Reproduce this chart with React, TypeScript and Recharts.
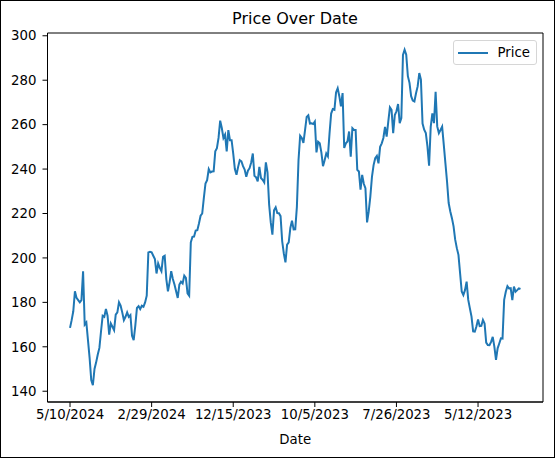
import { Line, LineChart, ReferenceArea, XAxis, YAxis } from "recharts";

// closing price, newest first (5/10/2024 back to early April 2023)
const prices = [
  168.5, 172, 176, 185, 182, 181, 180, 181, 194, 170,
  171, 163, 155, 145, 142.7, 150, 153, 156.5, 159.5, 167,
  174, 173.5, 177, 174, 165.5, 170.5, 169, 167.5, 174.5, 175.5,
  180, 178.5, 175.5, 172, 173.5, 175.5, 173.5, 174.3, 165, 163,
  169.5, 177.5, 178.3, 177, 178.5, 178, 180, 183, 202.5, 202.8,
  202.5, 201, 199.5, 193, 197.5, 195.5, 194, 200.5, 201, 190.5,
  185, 189, 194, 190.5, 188, 185, 182, 188, 189.3, 188.5,
  192, 191, 184, 183, 207, 209.5, 209.6, 212.3, 212.5, 215.5,
  219, 220, 227, 233.5, 235, 240, 238.5, 238.9, 239, 248,
  249.4, 254, 261.8, 258.5, 254, 255.5, 248, 257.5, 253, 253,
  247, 240, 237.4, 241, 244, 243.5, 241.3, 239.8, 236.5, 239.3,
  240.4, 243, 247, 237, 236.3, 234.5, 241, 236, 235.2, 234,
  243, 238.5, 224, 216, 210.5, 221.5, 222.8, 220.2, 220.1, 218.8,
  207.5, 202, 198, 206, 207, 213.5, 216.8, 212.8, 212.9, 223,
  244, 255, 254, 251.8, 257.5, 263.5, 264.2, 260.5, 260.6, 260.3,
  261.4, 247.5, 252.3, 251.6, 247.5, 241.3, 244, 247, 245.7, 256,
  265, 267, 266.7, 274.5, 276.4, 272.8, 268.2, 274.2, 249.5, 251.6,
  252.4, 256.9, 245.6, 258.4, 257.6, 257.6, 239.7, 238.9, 230.7, 237.4,
  233.4, 231.4, 216, 220.8, 227.6, 236.5, 241.8, 244.9, 245.9, 242.6,
  250, 251.6, 254, 259, 254.6, 261.4, 267.8, 266.7, 256.2, 264.3,
  266, 269.3, 260.7, 262.9, 291.4, 293.7, 291.5, 281.8, 278.8, 272.8,
  270.8, 270.4, 274.1, 277.2, 283.2, 280.3, 260.5, 257.7, 256.2, 250.2,
  241.5, 259, 265.1, 260.7, 274.8, 259.2, 256.2, 257.6, 259.1, 251,
  242.7, 234.4, 224.7, 220.9, 217.9, 214.2, 208.2, 204.4, 201.4, 193.1,
  184.9, 183.3, 185.5, 189.3, 181.1, 177.3, 173.6, 166.9, 166.8, 169.1,
  172.3, 169.3, 169.4, 172.1, 170.5, 161.9, 160.8, 160.7, 162.2, 164.5,
  160.1, 154.1, 159.3, 161.5, 163.8, 163.7, 181.1, 184.8, 187.3, 186.3,
  186.4, 181, 187.1, 184.8, 185.5, 186.3, 186,
];

const dateTickIndex = [0, 50, 100, 150, 200, 250];
const dateTickLabels = ["5/10/2024", "2/29/2024", "12/15/2023", "10/5/2023", "7/26/2023", "5/12/2023"];
const priceTicks = [140, 160, 180, 200, 220, 240, 260, 280, 300];

const data = prices.map((price, i) => ({ i, price }));

const FONT = "'DejaVu Sans', sans-serif";
const BLUE = "#1f77b4";
const tickStyle = { fontSize: 13.3, fill: "#000", fontFamily: FONT };

const xDomain = [-13.8, 289.8];
const yDomain = [135.15, 301.25];

function LegendBox() {
  return (
    <div
      style={{
        position: "absolute",
        top: 40,
        left: 452.5,
        width: 84,
        height: 25,
        boxSizing: "border-box",
        border: "1px solid #d6d6d6",
        borderRadius: 3,
        background: "rgba(255,255,255,0.8)",
        display: "flex",
        alignItems: "center",
        fontFamily: FONT,
        fontSize: 13.3,
        color: "#000",
      }}
    >
      <span style={{ display: "inline-block", width: 30, height: 2, background: BLUE, marginLeft: 4 }} />
      <span style={{ marginLeft: 10 }}>Price</span>
    </div>
  );
}

export default function App() {
  return (
    <div style={{ position: "absolute", left: 0, top: 0, width: 555, height: 458, background: "#fff" }}>
      <div
        style={{
          position: "absolute",
          top: 9,
          left: 47,
          width: 496,
          textAlign: "center",
          fontFamily: FONT,
          fontSize: 16,
          lineHeight: "20px",
          color: "#000",
        }}
      >
        Price Over Date
      </div>
      <LineChart width={555} height={458} data={data} margin={{ top: 33, right: 12, left: 0, bottom: 0 }}>
        <XAxis
          dataKey="i"
          type="number"
          domain={xDomain}
          allowDataOverflow
          ticks={dateTickIndex}
          tickFormatter={(v) => dateTickLabels[dateTickIndex.indexOf(v)] ?? ""}
          tick={tickStyle}
          tickSize={5}
          tickMargin={3}
          stroke="#000"
          height={56}
          label={{ value: "Date", position: "insideBottom", offset: 14, fill: "#000", fontSize: 13.3, fontFamily: FONT }}
        />
        <YAxis
          type="number"
          domain={yDomain}
          allowDataOverflow
          ticks={priceTicks}
          tick={tickStyle}
          tickSize={5}
          tickMargin={6}
          stroke="#000"
          width={47.5}
        />
        <ReferenceArea
          x1={xDomain[0]}
          x2={xDomain[1]}
          y1={yDomain[0]}
          y2={yDomain[1]}
          fill="none"
          stroke="#000"
          strokeWidth={1}
          ifOverflow="visible"
        />
        <Line
          type="linear"
          dataKey="price"
          name="Price"
          stroke={BLUE}
          strokeWidth={2}
          dot={false}
          isAnimationActive={false}
        />
      </LineChart>
      <LegendBox />
      <div
        style={{
          position: "absolute",
          left: 0,
          top: 0,
          width: 555,
          height: 458,
          boxSizing: "border-box",
          border: "1px solid #000",
          pointerEvents: "none",
        }}
      />
    </div>
  );
}
